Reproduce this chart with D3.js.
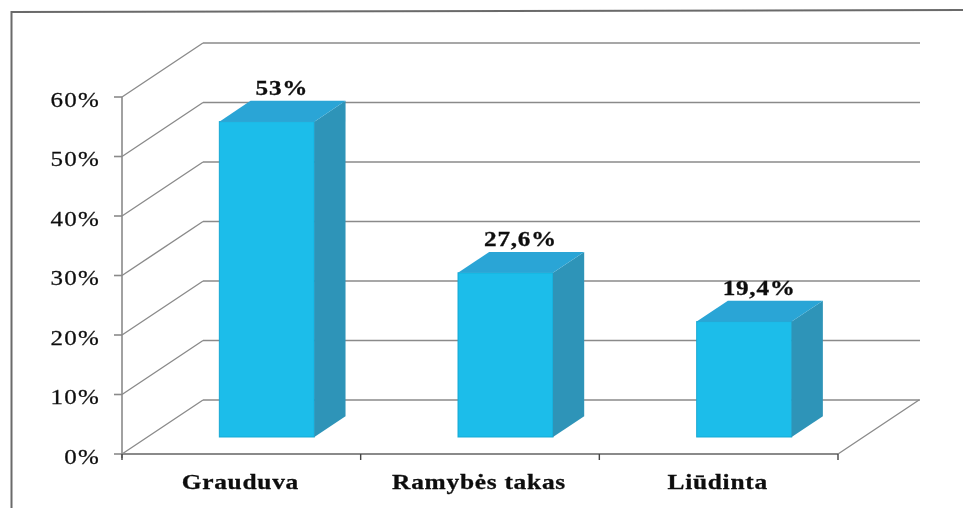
<!DOCTYPE html>
<html><head><meta charset="utf-8">
<script src="https://cdn.jsdelivr.net/npm/d3@7/dist/d3.min.js"></script>
<style>html,body{margin:0;padding:0;background:#fff}svg{display:block}</style></head>
<body><svg id="c" width="963" height="508"></svg>
<script>
const categories = ["Grauduva", "Ramybės takas", "Liūdinta"];
const values = [53, 27.6, 19.4];
const valueLabels = ["53%", "27,6%", "19,4%"];
const yTicks = [0, 10, 20, 30, 40, 50, 60];

const svg = d3.select("#c");
const defs = svg.append("defs");
defs.append("filter").attr("id","soft").append("feGaussianBlur").attr("stdDeviation",0.6);
const root = svg.append("g").attr("filter","url(#soft)");

const x0 = 122, x1 = 838, yB = 454, yT = 97;
const depthX = 81, depthY = 54;
const y = d3.scaleLinear().domain([0,60]).range([yB,yT]);
const x = d3.scaleBand().domain(categories).range([x0,x1]);
const barW = 95, frontD = 0.315, backD = 0.70;
const gridC = "#8a8a8a", axisC = "#8a8a8a", ink = "#111";

// frame
root.append("path").attr("d","M11.5,508V12L963,10").attr("fill","none").attr("stroke","#6a6a6a").attr("stroke-width",2);

// gridlines on side wall and back wall
const grid = root.append("g").attr("fill","none").attr("stroke",gridC);
grid.selectAll("path.side").data(yTicks).join("path").attr("class","side")
  .attr("d",d=>`M${x0},${y(d)}L${x0+depthX},${y(d)-depthY}`).attr("stroke-width",1.4);
grid.selectAll("path.back").data(yTicks).join("path").attr("class","back")
  .attr("d",d=>`M${x0+depthX},${y(d)-depthY}H${x1+depthX+1}`).attr("stroke-width",1.7);
// floor right edge
root.append("path").attr("d",`M${x1},${yB}L${x1+depthX},${yB-depthY}`).attr("fill","none").attr("stroke",gridC).attr("stroke-width",1.4);

// axes
const ax = root.append("g");
ax.append("path").attr("d",`M${x0},${yT}V${yB+4}`).attr("stroke",axisC).attr("stroke-width",1.6).attr("fill","none");
ax.append("path").attr("d",`M${x0},${yB}H${x1}`).attr("stroke",axisC).attr("stroke-width",2).attr("fill","none");
ax.selectAll("line.yt").data(yTicks).join("line").attr("class","yt")
  .attr("x1",x0-8).attr("x2",x0).attr("y1",d=>y(d)).attr("y2",d=>y(d)).attr("stroke",axisC).attr("stroke-width",1.6);
const xEdges = categories.map(c=>x(c)).concat([x1]);
ax.selectAll("line.xt").data(xEdges).join("line").attr("class","xt")
  .attr("x1",d=>d).attr("x2",d=>d).attr("y1",yB).attr("y2",yB+6).attr("stroke","#444").attr("stroke-width",1.4);

root.append("g").selectAll("text").data(yTicks).join("text")
  .attr("transform",d=>`translate(100,${y(d)+9.5}) scale(1.19,1)`).attr("text-anchor","end")
  .attr("font-family","Liberation Serif").attr("font-size",21).attr("letter-spacing",1)
  .attr("fill",ink).attr("stroke",ink).attr("stroke-width",0.25)
  .text(d=>d+"%");

// bars
const bars = root.append("g").selectAll("g").data(categories.map((c,i)=>({c,v:values[i],l:valueLabels[i]}))).join("g");
const fx = d=>x(d.c)+(x.bandwidth()-barW)/2+depthX*frontD;
const fdy = depthY*frontD, sdx = depthX*(backD-frontD), sdy = depthY*(backD-frontD);
bars.append("rect").attr("x",fx).attr("y",d=>y(d.v)-fdy).attr("width",barW).attr("height",d=>y(0)-y(d.v)).attr("fill","#1bbdea").attr("stroke","#17a9d4").attr("stroke-width",1);
bars.append("path").attr("d",d=>{const a=fx(d)+barW,t=y(d.v)-fdy,b=y(0)-fdy;return `M${a},${t}l${sdx},${-sdy}V${b-sdy}L${a},${b}Z`;}).attr("fill","#2f94b8");
bars.append("path").attr("d",d=>{const a=fx(d),t=y(d.v)-fdy;return `M${a},${t}l${sdx},${-sdy}h${barW}l${-sdx},${sdy}Z`;}).attr("fill","#2aa5d6");
bars.append("text").attr("transform",d=>`translate(${fx(d)+barW/2+15},${y(d.v)-fdy-sdy-6}) scale(1.2,1)`).attr("text-anchor","middle")
  .attr("font-family","Liberation Serif").attr("font-weight","bold").attr("font-size",21).attr("letter-spacing",0.6)
  .attr("fill",ink).attr("stroke",ink).attr("stroke-width",0.3)
  .text(d=>d.l);

// category labels
root.append("g").selectAll("text").data(categories).join("text")
  .attr("transform",c=>`translate(${x(c)+x.bandwidth()/2-1},489) scale(1.21,1)`).attr("text-anchor","middle")
  .attr("font-family","Liberation Serif").attr("font-weight","bold").attr("font-size",21).attr("letter-spacing",0.6)
  .attr("fill",ink).attr("stroke",ink).attr("stroke-width",0.3)
  .text(c=>c);
</script></body></html>
